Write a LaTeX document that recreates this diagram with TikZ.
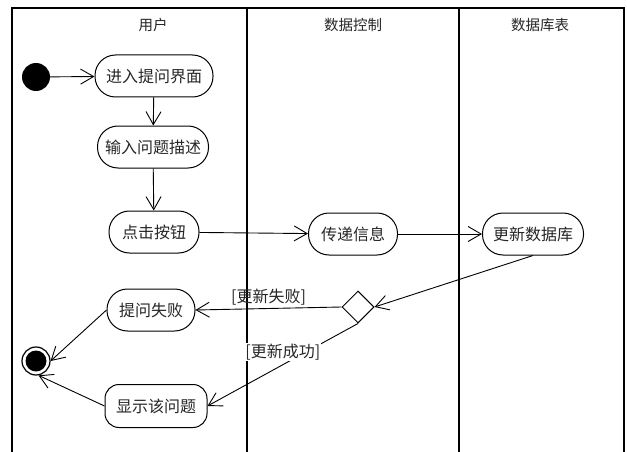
\documentclass[tikz,border=0pt]{standalone}
\usepackage{fontspec}
\setmainfont{Noto Sans CJK SC}
\usetikzlibrary{arrows.meta,shapes.geometric}
\begin{document}
\begin{tikzpicture}[x=1pt,y=-1pt,
  act/.style={rectangle, rounded corners=20.5pt, draw, line width=1pt, minimum height=42pt, inner xsep=2pt,
    font=\fontsize{16}{19}\selectfont, text=black!85},
  hdr/.style={font=\fontsize{14.5}{17}\selectfont, text=black!85},
  lane/.style={line width=1.4pt},
  arr/.style={line width=0.9pt, -{Straight Barb[length=13pt,width=15pt,line width=0.9pt]}},
  guard/.style={font=\fontsize{16}{19}\selectfont, text=black!85, inner sep=1pt}]
\useasboundingbox (0,0) rectangle (627,452);
\fill[white] (0,0) rectangle (627,452);
% swimlanes
\draw[lane] (12,452) -- (12,8) -- (624,8) -- (624,452);
\draw[lane] (247,8) -- (247,452);
\draw[lane] (459,8) -- (459,452);
\node[hdr] (h1) at (153,25) {用户};
\node[hdr] (h2) at (353,25) {数据控制};
\node[hdr] (h3) at (540,25) {数据库表};
% nodes
\node[circle, fill=black, minimum size=28pt, inner sep=0pt] (s) at (36,77) {};
\node[act, minimum width=118pt] (n1) at (154,76) {进入提问界面};
\node[act, minimum width=111pt] (n2) at (153,147) {输入问题描述};
\node[act, minimum width=90pt] (n3) at (154,232) {点击按钮};
\node[act, minimum width=89pt] (n4) at (353,234) {传递信息};
\node[act, minimum width=101pt] (n5) at (533,234) {更新数据库};
\node[diamond, draw, line width=1pt, minimum width=32pt, minimum height=32pt, inner sep=0pt, aspect=1] (d) at (358,307) {};
\node[act, minimum width=88pt] (f) at (151,310) {提问失败};
\node[act, rounded corners=14pt, minimum height=43pt, minimum width=102pt] (n7) at (156,406) {显示该问题};
\node[circle, draw, line width=1.2pt, minimum size=28pt, inner sep=0pt] (e) at (36,361) {};
\fill (e.center) circle[radius=10.5];
% edges
\draw[arr] (s) -- (n1);
\draw[arr] (n1) -- (n2);
\draw[arr] (n2) -- (n3);
\draw[arr] (n3) -- (n4);
\draw[arr] (n4) -- (n5);
\draw[arr] (n5.south) -- (d.east);
\draw[arr] (d.west) -- (f.east) node[guard, pos=0.5, above=2pt] (g1) {[更新失败]};
\draw[arr] (d.south) -- (n7.east) node[guard, pos=0.5, above=3pt, fill=white] (g2) {[更新成功]};
\draw[arr] (f.west) -- (e.east);
\draw[arr] (n7.west) -- (e.-80);
\end{tikzpicture}
\end{document}
